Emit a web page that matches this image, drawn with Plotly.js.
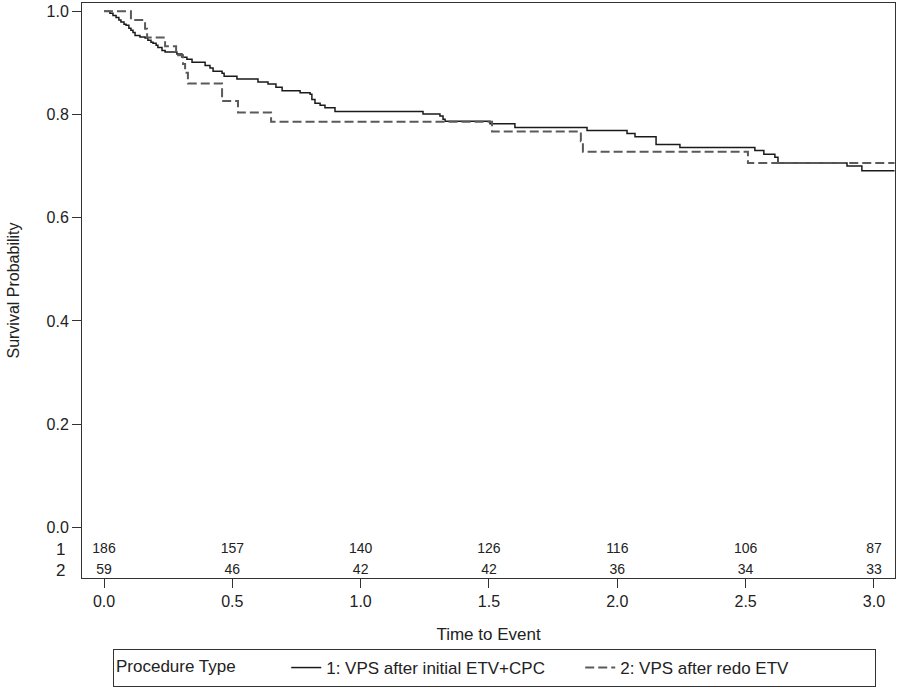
<!DOCTYPE html>
<html>
<head>
<meta charset="utf-8">
<script src="https://cdn.plot.ly/plotly-3.0.1.min.js"></script>
<style>html,body{margin:0;padding:0;background:#fff;}#chart{width:900px;height:689px;}</style>
</head>
<body>
<div id="chart"></div>
<script>
// Group 1: VPS after initial ETV+CPC (Kaplan-Meier step points)
const timeGroup1 = [0, 0.023, 0.035, 0.047, 0.058, 0.066, 0.078, 0.086, 0.097, 0.105, 0.113, 0.121, 0.140, 0.160, 0.171, 0.183, 0.191, 0.203, 0.210, 0.226, 0.238, 0.284, 0.304, 0.323, 0.343, 0.394, 0.413, 0.425, 0.460, 0.468, 0.518, 0.600, 0.639, 0.670, 0.694, 0.764, 0.803, 0.810, 0.822, 0.842, 0.861, 0.900, 1.243, 1.309, 1.321, 1.329, 1.504, 1.601, 1.882, 2.038, 2.069, 2.151, 2.244, 2.536, 2.571, 2.614, 2.626, 2.895, 2.953, 3.08];
const survGroup1 = [1.0, 0.996, 0.992, 0.988, 0.983, 0.979, 0.975, 0.973, 0.967, 0.963, 0.959, 0.953, 0.950, 0.948, 0.944, 0.940, 0.938, 0.934, 0.930, 0.924, 0.921, 0.917, 0.911, 0.907, 0.901, 0.895, 0.890, 0.884, 0.880, 0.874, 0.869, 0.863, 0.859, 0.853, 0.846, 0.842, 0.839, 0.829, 0.822, 0.818, 0.813, 0.806, 0.801, 0.797, 0.791, 0.787, 0.782, 0.775, 0.769, 0.763, 0.757, 0.742, 0.736, 0.730, 0.723, 0.717, 0.706, 0.700, 0.691, 0.691];

// Group 2: VPS after redo ETV
const timeGroup2 = [0, 0.105, 0.160, 0.168, 0.238, 0.281, 0.308, 0.316, 0.327, 0.460, 0.522, 0.651, 1.512, 1.858, 1.866, 2.509, 3.08];
const survGroup2 = [1.0, 0.983, 0.966, 0.949, 0.932, 0.915, 0.898, 0.881, 0.860, 0.826, 0.804, 0.786, 0.767, 0.748, 0.728, 0.706, 0.706];

// Number at risk table
const riskTimes = [0, 0.5, 1.0, 1.5, 2.0, 2.5, 3.0];
const riskGroup1 = [186, 157, 140, 126, 116, 106, 87];
const riskGroup2 = [59, 46, 42, 42, 36, 34, 33];
const riskRowLabels = ['1', '2'];

const groupNames = ['1: VPS after initial ETV+CPC', '2: VPS after redo ETV'];
const legendTitle = 'Procedure Type';

const yTickVals = [0, 0.2, 0.4, 0.6, 0.8, 1.0];
const yTickText = ['0.0', '0.2', '0.4', '0.6', '0.8', '1.0'];
const xTickVals = [0, 0.5, 1.0, 1.5, 2.0, 2.5, 3.0];
const xTickText = ['0.0', '0.5', '1.0', '1.5', '2.0', '2.5', '3.0'];

const rowY = [-0.043, -0.083];
const FONT = 'Arial, "Liberation Sans", sans-serif';
const NARROW = '"Liberation Sans Narrow", "Arial Narrow", "Liberation Sans", sans-serif';
const NBSP = '&nbsp;';

const traces = [
  {x: timeGroup1, y: survGroup1, type: 'scatter', mode: 'lines', line: {shape: 'hv', color: '#1a1a1a', width: 1.5}, name: groupNames[0]},
  {x: timeGroup2, y: survGroup2, type: 'scatter', mode: 'lines', line: {shape: 'hv', color: '#5a5a5a', width: 2, dash: '9px,4px'}, name: groupNames[1]},
  {x: riskTimes, y: riskTimes.map(() => rowY[0]), text: riskGroup1.map(String), type: 'scatter', mode: 'text', textposition: 'middle center', textfont: {family: NARROW, size: 14, color: '#222'}, showlegend: false, hoverinfo: 'skip'},
  {x: riskTimes, y: riskTimes.map(() => rowY[1]), text: riskGroup2.map(String), type: 'scatter', mode: 'text', textposition: 'middle center', textfont: {family: NARROW, size: 14, color: '#222'}, showlegend: false, hoverinfo: 'skip'}
];

const layout = {
  width: 900, height: 689,
  margin: {l: 82, r: 5, t: 3, b: 111},
  paper_bgcolor: '#fff', plot_bgcolor: '#fff',
  font: {family: FONT, size: 16, color: '#222'},
  showlegend: true,
  legend: {
    orientation: 'h', xref: 'container', yref: 'container',
    x: 113 / 900, xanchor: 'left', y: 1 - 687 / 689, yanchor: 'bottom',
    bordercolor: '#333', borderwidth: 1, bgcolor: '#fff',
    font: {family: FONT, size: 17, color: '#222'},
    title: {text: legendTitle + NBSP.repeat(9), side: 'left', font: {family: FONT, size: 17, color: '#222'}},
    entrywidth: 249, entrywidthmode: 'pixels'
  },
  xaxis: {
    range: [-0.0857, 3.082], showline: true, mirror: true, linecolor: '#333', linewidth: 1,
    ticks: 'outside', ticklen: 9, tickcolor: '#333', tickvals: xTickVals, ticktext: xTickText,
    showgrid: false, zeroline: false, tickfont: {size: 16},
    title: {text: 'Time to Event', font: {size: 17}, standoff: 18}
  },
  yaxis: {
    range: [-0.098, 1.016], showline: true, mirror: true, linecolor: '#333', linewidth: 1,
    ticks: 'outside', ticklen: 9, tickcolor: '#333', tickvals: yTickVals, ticktext: yTickText,
    showgrid: false, zeroline: false, tickfont: {size: 16},
    title: {text: 'Survival Probability', font: {size: 16}, standoff: 22}
  },
  annotations: riskRowLabels.map((lab, i) => ({
    text: lab, xref: 'paper', yref: 'y', x: -0.018, y: rowY[i], xanchor: 'right', yanchor: 'middle',
    showarrow: false, font: {family: FONT, size: 17, color: '#222'}
  }))
};

Plotly.newPlot('chart', traces, layout, {displayModeBar: false, staticPlot: true});
</script>
</body>
</html>
